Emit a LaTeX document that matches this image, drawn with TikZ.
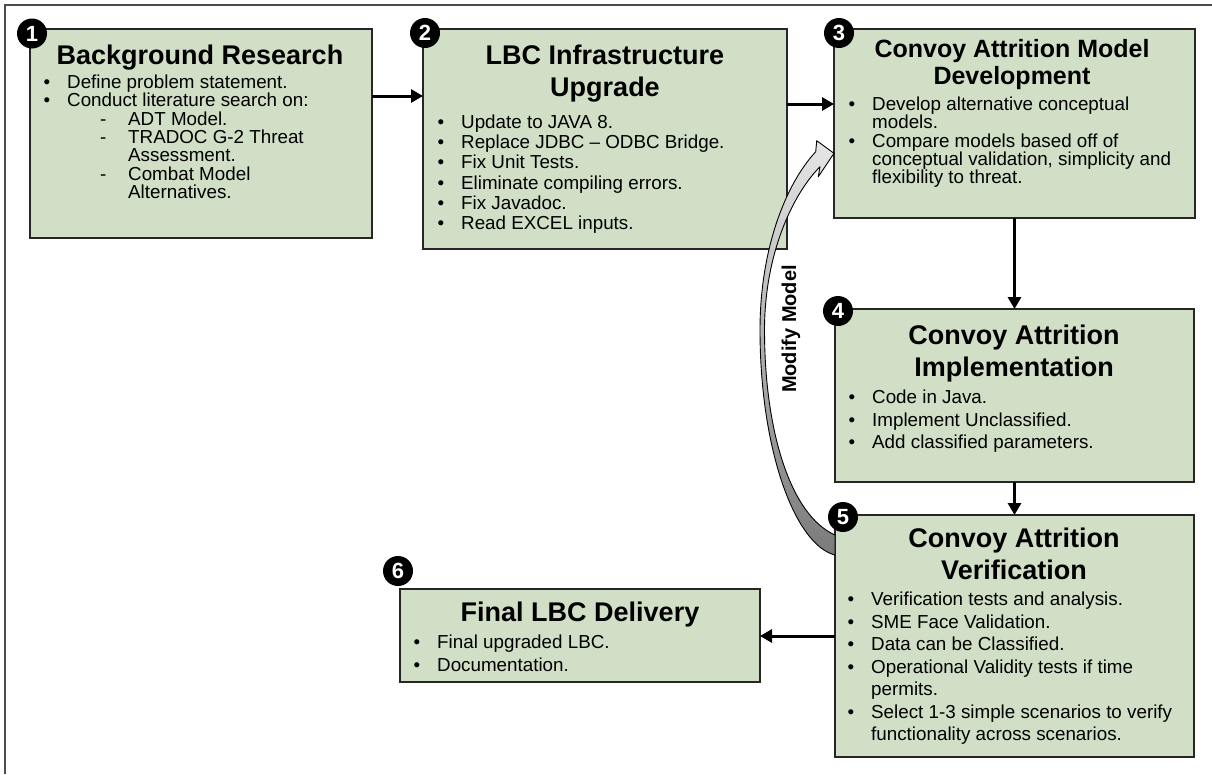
\documentclass[tikz,border=0pt]{standalone}
\usepackage{fontspec}
\setmainfont{Liberation Sans}
\usetikzlibrary{arrows.meta}

\definecolor{boxgreen}{RGB}{208,223,198}

% list lines: bullet item, continuation line, dashed sub-item
\newcommand\itm[1]{\makebox[23.5pt][l]{•}#1\par}
\newcommand\cnt[2][23.5pt]{\hspace*{#1}#2\par}
\newcommand\dsh[1]{\hspace*{56.5pt}\makebox[28pt][l]{-}#1\par}
% body block whose baseline is the first line
\newcommand\bodyblock[2]{\parbox[t]{340pt}{\fontsize{18.8}{#1}\selectfont\raggedright #2}}
\newcommand\titleblock[3]{\parbox[t]{360pt}{\centering\bfseries\fontsize{#1}{#2}\selectfont #3}}

\begin{document}
\begin{tikzpicture}[x=1pt,y=-1pt,
  stage/.style={draw=black!85, line width=2pt, fill=boxgreen, outer sep=0pt, inner sep=0pt},
  badge/.style={circle, fill=black, text=white, minimum size=30pt, inner sep=0pt,
                font=\bfseries\fontsize{22}{22}\selectfont},
  ttl/.style={anchor=base, inner sep=0pt, font=\bfseries\fontsize{27}{32}\selectfont},
  body/.style={anchor=base west, inner sep=0pt},
  flow/.style={line width=3pt, -{Triangle[width=13pt,length=12pt]}},
  frame/.style={line width=1.5pt, draw=black!70}]

\useasboundingbox (0,0) rectangle (1212,774);
\draw[frame] (5,774) -- (5,5) -- (1212,5);

% stage boxes
\node[stage, minimum width=342pt, minimum height=209pt] (b1) at (201,133.5) {};
\node[stage, minimum width=364pt, minimum height=220pt] (b2) at (605,139) {};
\node[stage, minimum width=361pt, minimum height=189pt] (b3) at (1014.5,123.5) {};
\node[stage, minimum width=359pt, minimum height=173pt] (b4) at (1014.5,395.5) {};
\node[stage, minimum width=359pt, minimum height=242pt] (b5) at (1014.5,636) {};
\node[stage, minimum width=360pt, minimum height=93pt] (b6) at (580,635.5) {};

% titles
\node[ttl] (t1) at (200,64) {Background Research};
\node[ttl] (t2) at (605,64.5) {\titleblock{27}{32}{LBC Infrastructure\\Upgrade}};
\node[ttl] (t3) at (1012,57) {\titleblock{25}{27}{Convoy Attrition Model\\Development}};
\node[ttl] (t4) at (1014,344.5) {\titleblock{27}{31.5}{Convoy Attrition\\Implementation}};
\node[ttl] (t5) at (1014,547.5) {\titleblock{27}{32}{Convoy Attrition\\Verification}};
\node[ttl] (t6) at (580,621.5) {Final LBC Delivery};

% item lists
\node[body] (l1) at (43.5,88.5) {\bodyblock{18.3}{%
  \itm{Define problem statement.}
  \itm{Conduct literature search on:}
  \dsh{ADT Model.}
  \dsh{TRADOC G-2 Threat}
  \cnt[84.5pt]{Assessment.}
  \dsh{Combat Model}
  \cnt[84.5pt]{Alternatives.}}};
\node[body] (l2) at (437.5,128.5) {\bodyblock{20.2}{%
  \itm{Update to JAVA 8.}
  \itm{Replace JDBC – ODBC Bridge.}
  \itm{Fix Unit Tests.}
  \itm{Eliminate compiling errors.}
  \itm{Fix Javadoc.}
  \itm{Read EXCEL inputs.}}};
\node[body] (l3) at (848.5,110.5) {\bodyblock{18.3}{%
  \itm{Develop alternative conceptual}
  \cnt{models.}
  \itm{Compare models based off of}
  \cnt{conceptual validation, simplicity and}
  \cnt{flexibility to threat.}}};
\node[body] (l4) at (848.5,403.5) {\bodyblock{22.5}{%
  \itm{Code in Java.}
  \itm{Implement Unclassified.}
  \itm{Add classified parameters.}}};
\node[body] (l5) at (847.5,605.5) {\bodyblock{22.5}{%
  \itm{Verification tests and analysis.}
  \itm{SME Face Validation.}
  \itm{Data can be Classified.}
  \itm{Operational Validity tests if time}
  \cnt{permits.}
  \itm{Select 1-3 simple scenarios to verify}
  \cnt{functionality across scenarios.}}};
\node[body] (l6) at (413.5,648.5) {\bodyblock{22.5}{%
  \itm{Final upgraded LBC.}
  \itm{Documentation.}}};

% flow connectors
\coordinate (y12) at (0,96);
\coordinate (y23) at (0,104);
\draw[flow] (y12 -| b1.east) -- (y12 -| b2.west);
\draw[flow] (y23 -| b2.east) -- (y23 -| b3.west);
\draw[flow] (b3.south) -- (b4.north);
\draw[flow] (b4.south) -- (b5.north);
\draw[flow] (b5.west) -- (b5.west -| b6.east);

% feedback arrow from verification back to model development
\path[draw=black, line width=0.9pt, line join=round, top color=black!10, bottom color=black!52]
  (b5.west |- 0,555) .. controls (795,545) and (760,450) .. (760,330)
  .. controls (760,250) and (785,185) .. (815.7,151.7)
  -- (816.7,140.7) -- (b3.west |- 0,153.3) -- (818.3,176.7) -- (820,166.7)
  .. controls (792,195) and (764.5,255) .. (764.5,330)
  .. controls (764.5,430) and (790,515) .. (b5.west |- 0,535) -- cycle;
\node[rotate=90, inner sep=0pt, font=\bfseries\fontsize{20}{20}\selectfont] (fb) at (791,329) {Modify Model};

% step numbers
\node[badge] (n1) at (32,33.5) {1};
\node[badge] (n2) at (425,33) {2};
\node[badge] (n3) at (839,33) {3};
\node[badge] (n4) at (838,311) {4};
\node[badge] (n5) at (843,517) {5};
\node[badge] (n6) at (398,571) {6};
\end{tikzpicture}
\end{document}
